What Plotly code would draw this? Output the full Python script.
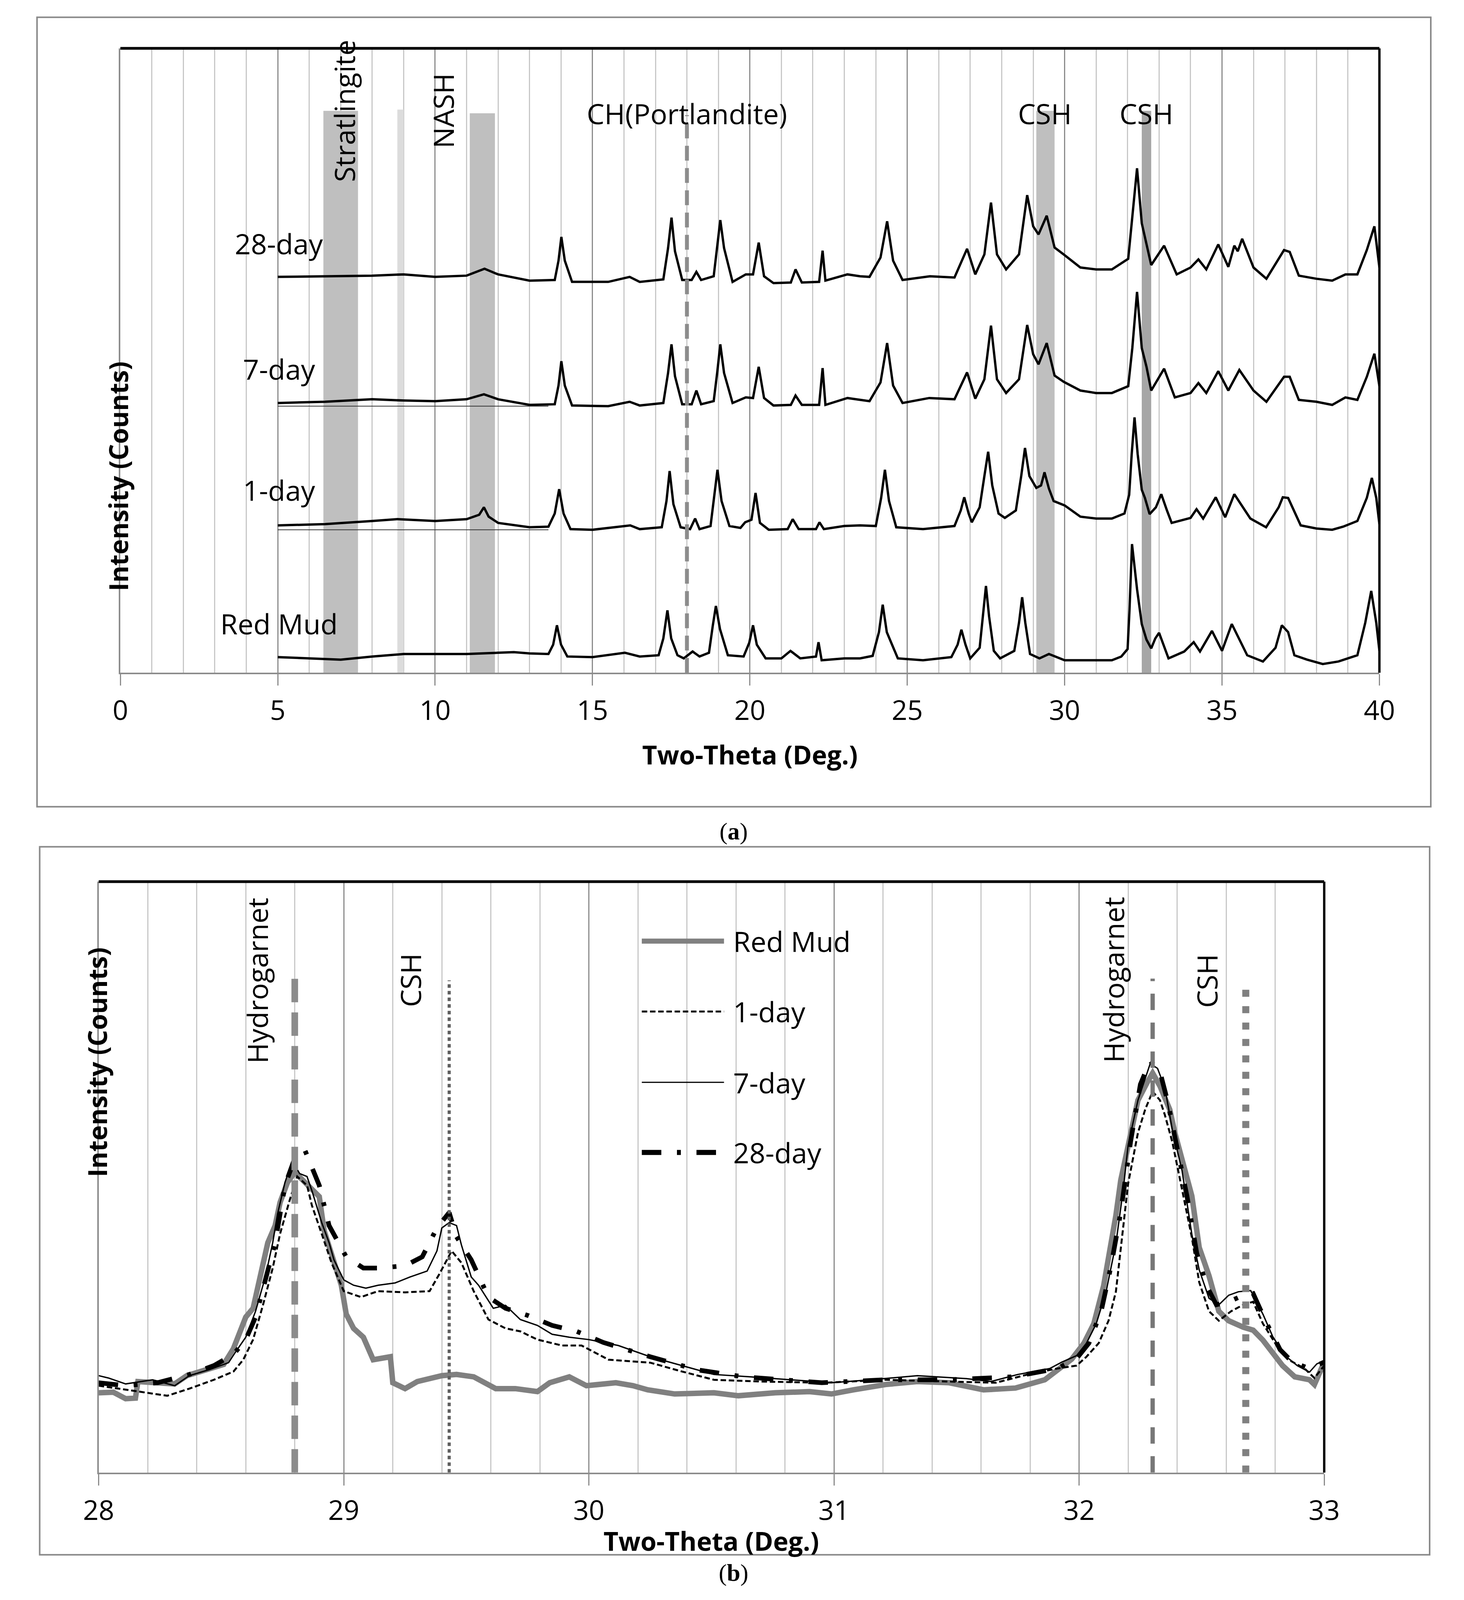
import plotly.graph_objects as go

W, H = 3748, 4615

# ---------------- panel (a): stacked XRD patterns, 5-40 deg ----------------
a_red_mud = [
    (5.0, 2.5), (6.0, 2.3), (7.0, 2.1), (8.0, 2.6), (9.0, 3.0), (10.0, 3.0), (11.0, 3.0),
    (12.0, 3.2), (12.5, 3.3), (13.0, 3.1), (13.6, 3.0), (13.75, 4.5), (13.87, 7.6), (14.0, 4.5),
    (14.2, 2.6), (15.0, 2.5), (16.03, 3.2), (16.5, 2.6), (17.1, 2.8), (17.25, 5.5), (17.38, 10.0),
    (17.5, 5.5), (17.7, 2.8), (17.9, 2.3), (18.18, 3.4), (18.4, 2.6), (18.7, 3.2), (18.82, 7.5),
    (18.92, 10.7), (19.05, 7.0), (19.3, 2.8), (19.8, 2.6), (19.98, 4.8), (20.1, 7.6), (20.22, 4.5),
    (20.5, 2.3), (21.0, 2.3), (21.29, 3.5), (21.6, 2.3), (22.1, 2.6), (22.18, 4.9), (22.28, 2.0),
    (23.0, 2.3), (23.5, 2.3), (23.9, 2.7), (24.1, 6.5), (24.22, 10.9), (24.35, 6.5), (24.7, 2.3),
    (25.5, 2.0), (26.4, 2.5), (26.6, 4.5), (26.72, 6.9), (26.85, 4.5), (27.0, 2.3), (27.3, 4.0),
    (27.4, 9.0), (27.5, 13.9), (27.6, 9.0), (27.75, 3.5), (27.95, 2.3), (28.4, 3.5), (28.55, 8.0),
    (28.65, 12.1), (28.75, 8.0), (28.9, 3.0), (29.2, 2.3), (29.5, 3.0), (30.0, 2.0), (30.5, 2.0),
    (31.0, 2.0), (31.5, 2.0), (31.8, 2.6), (32.0, 3.8), (32.06, 10.0), (32.14, 20.6), (32.3, 13.4),
    (32.45, 7.8), (32.6, 5.3), (32.75, 3.9), (32.88, 5.5), (33.0, 6.4), (33.3, 2.3), (33.8, 3.4),
    (34.1, 4.9), (34.3, 3.4), (34.68, 6.7), (35.0, 3.5), (35.31, 7.8), (35.8, 2.8), (36.3, 1.8),
    (36.7, 4.0), (36.9, 7.6), (37.1, 6.5), (37.3, 2.8), (37.7, 2.1), (38.2, 1.4), (38.7, 1.8),
    (39.3, 2.8), (39.55, 8.0), (39.74, 13.1), (39.9, 8.0), (40.0, 3.5),
]
a_day1 = [
    (5.0, 23.6), (6.5, 23.8), (8.0, 24.3), (8.8, 24.6), (10.0, 24.3), (11.0, 24.6), (11.4, 25.3),
    (11.55, 26.5), (11.7, 25.0), (12.0, 24.0), (13.0, 23.3), (13.6, 23.4), (13.8, 25.5), (13.94, 29.4),
    (14.08, 25.5), (14.3, 23.0), (15.0, 22.9), (16.2, 23.6), (16.5, 23.0), (17.2, 23.3), (17.35, 27.5),
    (17.45, 32.3), (17.57, 27.0), (17.8, 23.3), (18.1, 23.0), (18.26, 24.7), (18.4, 23.0), (18.75, 23.5),
    (18.86, 28.0), (18.97, 32.5), (19.1, 27.5), (19.35, 23.5), (19.7, 23.2), (19.85, 24.1), (20.05, 24.5),
    (20.18, 28.8), (20.32, 24.0), (20.6, 22.9), (21.2, 23.0), (21.36, 24.6), (21.55, 23.0), (22.1, 23.0),
    (22.21, 24.1), (22.35, 23.0), (23.0, 23.5), (23.5, 23.6), (24.0, 23.5), (24.17, 28.0), (24.29, 32.5),
    (24.42, 27.5), (24.65, 23.3), (25.5, 23.0), (26.5, 23.5), (26.7, 26.0), (26.81, 28.1), (26.95, 25.5),
    (27.05, 24.1), (27.3, 26.5), (27.45, 31.5), (27.57, 35.4), (27.7, 30.0), (27.9, 25.5), (28.1, 24.8),
    (28.45, 26.0), (28.62, 31.5), (28.74, 36.0), (28.88, 31.5), (29.1, 29.6), (29.25, 30.0), (29.36, 32.1),
    (29.5, 29.5), (29.65, 27.5), (30.0, 26.8), (30.5, 25.0), (31.0, 24.7), (31.5, 24.7), (31.9, 25.5),
    (32.05, 28.5), (32.13, 35.0), (32.22, 40.9), (32.32, 35.0), (32.45, 29.3), (32.55, 28.0), (32.7, 25.4),
    (32.9, 26.5), (33.07, 28.6), (33.25, 26.0), (33.4, 24.0), (34.0, 24.8), (34.19, 26.2), (34.4, 24.7),
    (34.8, 28.1), (35.1, 24.9), (35.39, 28.6), (35.9, 24.7), (36.4, 23.3), (36.8, 26.5), (36.93, 28.1),
    (37.1, 28.0), (37.5, 23.6), (38.0, 23.1), (38.5, 22.9), (38.85, 23.4), (39.3, 24.3), (39.6, 28.0),
    (39.76, 31.2), (39.9, 28.0), (40.0, 23.8),
]
a_day7 = [
    (5.0, 43.2), (6.5, 43.4), (8.0, 43.8), (9.0, 43.6), (10.0, 43.5), (11.0, 43.8), (11.55, 44.6),
    (12.0, 43.8), (13.0, 42.9), (13.8, 43.0), (13.92, 46.0), (14.01, 49.9), (14.12, 46.0), (14.35, 42.8),
    (15.5, 42.7), (16.18, 43.4), (16.5, 42.8), (17.25, 43.2), (17.4, 48.0), (17.51, 52.6), (17.62, 47.5),
    (17.85, 43.0), (18.15, 43.0), (18.3, 45.2), (18.45, 43.0), (18.85, 43.5), (18.96, 48.0), (19.06, 52.6),
    (19.18, 48.0), (19.45, 43.2), (19.87, 44.1), (20.1, 44.0), (20.28, 49.0), (20.45, 44.0), (20.75, 42.8),
    (21.3, 42.9), (21.45, 44.4), (21.65, 42.9), (22.2, 42.9), (22.31, 48.8), (22.4, 42.9), (23.1, 44.0),
    (23.8, 43.5), (24.15, 46.5), (24.36, 52.8), (24.55, 46.0), (24.85, 43.2), (25.7, 44.0), (26.5, 43.8),
    (26.9, 48.1), (27.16, 43.9), (27.45, 47.0), (27.66, 55.6), (27.85, 47.0), (28.14, 44.8), (28.55, 47.0),
    (28.81, 55.7), (29.0, 51.0), (29.17, 49.4), (29.43, 52.8), (29.68, 47.6), (29.97, 46.6), (30.5, 45.2),
    (31.0, 44.8), (31.5, 44.8), (32.02, 45.9), (32.15, 52.0), (32.3, 61.0), (32.45, 52.0), (32.6, 49.0),
    (32.75, 45.2), (33.16, 48.7), (33.5, 44.1), (34.0, 44.8), (34.25, 46.4), (34.5, 44.8), (34.88, 48.3),
    (35.2, 45.2), (35.55, 48.5), (36.0, 45.2), (36.41, 43.4), (36.97, 47.4), (37.15, 47.4), (37.44, 43.7),
    (38.0, 43.4), (38.5, 42.9), (38.92, 44.1), (39.3, 43.7), (39.6, 47.4), (39.84, 51.1), (40.0, 45.9),
]
a_day28 = [
    (5.0, 63.4), (6.5, 63.5), (8.0, 63.6), (9.0, 63.8), (10.0, 63.4), (11.0, 63.6), (11.57, 64.7),
    (12.0, 63.8), (13.0, 62.8), (13.8, 62.9), (13.92, 66.0), (14.01, 69.8), (14.12, 66.0), (14.35, 62.6),
    (15.5, 62.6), (16.18, 63.4), (16.5, 62.6), (17.25, 63.0), (17.4, 68.0), (17.51, 72.9), (17.62, 67.5),
    (17.85, 62.9), (18.15, 62.9), (18.3, 64.2), (18.45, 62.9), (18.85, 63.5), (18.96, 68.0), (19.06, 72.5),
    (19.18, 68.0), (19.45, 62.6), (19.87, 63.8), (20.1, 63.8), (20.28, 68.9), (20.45, 63.5), (20.75, 62.4),
    (21.3, 62.5), (21.45, 64.6), (21.65, 62.5), (22.2, 62.6), (22.31, 67.6), (22.4, 62.8), (23.1, 63.8),
    (23.5, 63.5), (23.8, 63.4), (24.15, 66.5), (24.36, 72.3), (24.55, 66.0), (24.85, 62.9), (25.72, 63.5),
    (26.5, 63.3), (26.9, 67.9), (27.16, 63.8), (27.45, 67.0), (27.66, 75.3), (27.85, 67.0), (28.14, 64.6),
    (28.55, 67.0), (28.81, 76.5), (29.0, 71.5), (29.17, 70.2), (29.43, 73.2), (29.68, 68.1), (29.97, 67.0),
    (30.5, 64.9), (31.0, 64.6), (31.5, 64.6), (32.02, 66.3), (32.15, 73.0), (32.3, 80.8), (32.45, 72.0),
    (32.6, 68.8), (32.75, 65.3), (33.16, 68.4), (33.56, 63.8), (34.0, 64.9), (34.25, 66.2), (34.5, 64.6),
    (34.88, 68.6), (35.2, 65.0), (35.39, 68.4), (35.5, 67.5), (35.64, 69.5), (36.0, 64.9), (36.41, 63.1),
    (36.97, 67.7), (37.15, 67.4), (37.44, 63.6), (38.0, 63.1), (38.5, 62.8), (38.92, 63.8), (39.3, 63.8),
    (39.6, 67.7), (39.84, 71.5), (40.0, 64.9),
]
a_series = {"Red Mud": a_red_mud, "1-day": a_day1, "7-day": a_day7, "28-day": a_day28}
a_sample_label_y = {"Red Mud": 7.9, "1-day": 29.3, "7-day": 48.7, "28-day": 68.8}
a_sample_label_x = 5.04

# thin guide lines under the 1-day and 7-day patterns
a_guide_y = [42.7, 22.9]
a_guide_x = [5.0, 13.6]

# shaded phase bands
a_band_x0 = [6.45, 8.8, 11.1, 29.1, 32.45]
a_band_x1 = [7.55, 9.0, 11.9, 29.68, 32.75]
a_band_top = [90.0, 90.2, 89.6, 90.0, 90.0]
a_band_color = ["#bfbfbf", "#dcdcdc", "#bfbfbf", "#bfbfbf", "#a6a6a6"]

a_phase_text = ["Stratlingite", "NASH", "CH(Portlandite)", "CSH", "CSH"]
a_phase_x = [7.1, 10.25, 18.0, 29.37, 32.6]
a_phase_y = [90.0, 90.0, 89.6, 89.6, 89.6]
a_phase_angle = [-90, -90, 0, 0, 0]

a_ch_x = 18.0
a_ch_top = 89.3

# ---------------- panel (b): zoom 28-33 deg ----------------
b_red_mud = [
    (28.00, 13.5), (28.06, 13.6), (28.11, 12.5), (28.15, 12.6), (28.16, 15.4), (28.24, 15.2),
    (28.31, 15.0), (28.36, 16.4), (28.43, 17.4), (28.51, 18.3), (28.55, 21.0), (28.60, 26.3),
    (28.63, 27.8), (28.66, 33.1), (28.69, 38.9), (28.72, 41.8), (28.74, 45.7), (28.77, 49.1),
    (28.80, 50.8), (28.83, 49.6), (28.87, 48.1), (28.90, 46.7), (28.92, 40.9), (28.96, 35.5),
    (28.99, 31.7), (29.01, 26.8), (29.04, 24.4), (29.08, 22.9), (29.12, 19.1), (29.19, 19.6),
    (29.20, 15.2), (29.25, 14.2), (29.30, 15.4), (29.40, 16.4), (29.46, 16.6), (29.53, 16.2),
    (29.62, 14.2), (29.70, 14.2), (29.79, 13.7), (29.84, 15.2), (29.92, 16.2), (29.99, 14.7),
    (30.11, 15.2), (30.18, 14.7), (30.24, 14.0), (30.35, 13.3), (30.51, 13.5), (30.61, 13.0),
    (30.76, 13.5), (30.90, 13.7), (30.99, 13.3), (31.08, 14.0), (31.21, 14.9), (31.34, 15.4),
    (31.47, 15.2), (31.61, 14.0), (31.74, 14.3), (31.86, 15.7), (31.97, 19.2), (32.02, 21.9),
    (32.06, 25.2), (32.10, 31.6), (32.12, 36.0), (32.15, 43.5), (32.17, 49.5), (32.20, 54.9),
    (32.24, 63.0), (32.28, 66.2), (32.30, 67.6), (32.33, 65.4), (32.37, 61.4), (32.39, 57.6),
    (32.42, 53.3), (32.46, 46.8), (32.49, 38.1), (32.53, 33.3), (32.57, 27.3), (32.61, 25.7),
    (32.67, 24.6), (32.71, 24.1), (32.75, 22.4), (32.79, 20.3), (32.83, 18.1), (32.88, 16.2),
    (32.94, 15.7), (32.96, 14.9), (33.00, 18.7),
]
b_day1 = [
    (28.00, 14.7), (28.11, 14.0), (28.28, 13.0), (28.37, 14.2), (28.47, 15.7), (28.55, 17.1),
    (28.59, 19.1), (28.63, 22.5), (28.67, 28.3), (28.71, 34.6), (28.74, 40.4), (28.78, 46.2),
    (28.81, 50.1), (28.85, 48.6), (28.87, 45.2), (28.91, 40.4), (28.95, 35.5), (29.00, 30.7),
    (29.07, 29.7), (29.14, 30.7), (29.25, 30.5), (29.35, 30.7), (29.39, 33.6), (29.44, 37.5),
    (29.48, 35.5), (29.53, 30.7), (29.59, 25.9), (29.66, 24.4), (29.72, 23.9), (29.79, 22.5),
    (29.89, 21.5), (29.97, 21.5), (30.08, 19.1), (30.25, 18.6), (30.38, 17.1), (30.51, 15.7),
    (30.70, 15.4), (30.96, 15.2), (31.21, 15.7), (31.47, 15.4), (31.66, 15.2), (31.79, 16.6),
    (31.91, 17.6), (31.99, 18.1), (32.03, 19.6), (32.08, 21.9), (32.12, 25.7), (32.15, 30.6),
    (32.18, 41.4), (32.20, 48.9), (32.24, 57.5), (32.27, 61.5), (32.30, 64.5), (32.33, 63.0),
    (32.35, 60.5), (32.38, 56.0), (32.42, 47.9), (32.46, 39.8), (32.49, 32.2), (32.53, 27.3),
    (32.57, 25.7), (32.62, 27.3), (32.67, 28.4), (32.71, 28.9), (32.75, 25.2), (32.80, 21.9),
    (32.85, 19.2), (32.92, 17.6), (32.96, 16.0), (33.00, 18.1),
]
b_day7 = [
    (28.00, 16.4), (28.04, 16.0), (28.11, 15.0), (28.22, 15.7), (28.31, 14.7), (28.37, 16.4),
    (28.45, 17.4), (28.53, 18.6), (28.56, 20.5), (28.60, 22.9), (28.64, 27.3), (28.68, 33.1),
    (28.71, 38.9), (28.73, 43.8), (28.76, 49.1), (28.78, 51.5), (28.80, 52.0), (28.82, 50.6),
    (28.85, 50.1), (28.87, 47.7), (28.91, 42.3), (28.94, 38.9), (28.96, 36.0), (29.00, 32.6),
    (29.04, 31.7), (29.09, 31.2), (29.14, 31.7), (29.21, 32.1), (29.27, 33.1), (29.34, 34.1),
    (29.38, 37.5), (29.40, 41.4), (29.43, 42.3), (29.46, 41.8), (29.48, 38.5), (29.52, 33.1),
    (29.55, 31.7), (29.61, 27.8), (29.66, 28.3), (29.72, 25.9), (29.79, 24.9), (29.85, 23.4),
    (29.92, 22.9), (30.00, 22.5), (30.12, 21.5), (30.25, 19.6), (30.38, 18.1), (30.51, 16.6),
    (30.66, 16.2), (30.83, 15.7), (30.99, 15.2), (31.15, 15.7), (31.34, 16.4), (31.54, 15.9),
    (31.64, 15.4), (31.75, 16.6), (31.88, 17.6), (31.93, 18.7), (31.99, 19.8), (32.03, 21.9),
    (32.07, 25.2), (32.11, 30.6), (32.15, 38.7), (32.18, 47.9), (32.20, 55.4), (32.24, 63.0),
    (32.27, 66.8), (32.29, 69.2), (32.32, 68.4), (32.35, 65.1), (32.38, 58.1), (32.42, 51.1),
    (32.46, 40.3), (32.49, 34.3), (32.53, 29.5), (32.57, 28.4), (32.61, 30.0), (32.65, 30.6),
    (32.70, 30.8), (32.75, 26.8), (32.79, 23.0), (32.84, 19.8), (32.89, 18.1), (32.94, 17.0),
    (32.97, 18.4), (33.00, 18.9),
]
b_day28 = [
    (28.00, 15.2), (28.11, 14.7), (28.24, 15.2), (28.37, 16.6), (28.47, 18.1), (28.55, 20.0),
    (28.60, 22.5), (28.64, 26.3), (28.68, 32.6), (28.72, 38.9), (28.76, 48.6), (28.80, 53.2),
    (28.84, 54.7), (28.87, 51.5), (28.90, 48.6), (28.94, 41.8), (28.98, 38.9), (29.01, 36.5),
    (29.08, 34.6), (29.14, 34.6), (29.25, 35.0), (29.32, 36.5), (29.38, 41.4), (29.43, 44.0),
    (29.46, 39.9), (29.52, 36.0), (29.59, 29.7), (29.66, 27.8), (29.75, 26.6), (29.85, 24.9),
    (29.95, 23.9), (30.06, 22.0), (30.25, 19.6), (30.44, 17.4), (30.63, 16.2), (30.95, 15.2),
    (31.21, 15.7), (31.47, 15.7), (31.73, 16.2), (31.91, 17.6), (31.99, 19.3), (32.04, 21.9),
    (32.09, 27.3), (32.13, 34.9), (32.17, 44.1), (32.21, 56.0), (32.25, 65.7), (32.29, 69.7),
    (32.33, 67.8), (32.36, 63.0), (32.40, 54.9), (32.44, 46.8), (32.48, 37.1), (32.52, 31.6),
    (32.56, 28.4), (32.61, 28.9), (32.67, 30.0), (32.71, 30.3), (32.76, 25.7), (32.82, 20.8),
    (32.87, 18.7), (32.94, 17.6), (33.00, 18.7),
]
b_series = {"Red Mud": b_red_mud, "1-day": b_day1, "7-day": b_day7, "28-day": b_day28}
b_style = {
    "Red Mud": dict(color="#808080", width=14, dash="solid"),
    "1-day": dict(color="black", width=5, dash="14px,7px"),
    "7-day": dict(color="black", width=3.5, dash="solid"),
    "28-day": dict(color="black", width=12, dash="50px,40px,10px,40px"),
}

# vertical phase markers
b_mark_x = [28.8, 29.43, 32.3, 32.68]
b_mark_top = [83.6, 83.3, 83.6, 83.0]
b_mark_style = [
    dict(color="#8c8c8c", width=17, dash="60px,26px"),
    dict(color="#5f5f5f", width=8, dash="9px,8px"),
    dict(color="#777777", width=11, dash="42px,32px"),
    dict(color="#808080", width=18, dash="18px,24px"),
]
b_phase_text = ["Hydrogarnet", "CSH", "Hydrogarnet", "CSH"]
b_phase_x = [28.646, 29.27, 32.14, 32.52]
b_phase_y = [83.3, 83.3, 83.4, 83.2]

# ---------------- page geometry (pixels of the 3748x4615 original) ----------------
A_PLOT = dict(l=267, r=3575, t=131, b=1939)
B_PLOT = dict(l=210, r=3430, t=2544, b=4255)
A_BOX = dict(l=48, r=3710, t=41, b=2327)
B_BOX = dict(l=55, r=3707, t=2443, b=4493)


def px(x):
    return x / W


def py(y):
    return 1 - y / H


FONT = "Open Sans"
GRID_MAJOR = "#8c8c8c"
GRID_MINOR = "#c8c8c8"

fig = go.Figure()

for name, pts in a_series.items():
    xs, ys = zip(*pts)
    fig.add_trace(go.Scatter(x=xs, y=ys, mode="lines", name=name, showlegend=False,
                             line=dict(color="black", width=6), xaxis="x", yaxis="y"))

for gy in a_guide_y:
    fig.add_trace(go.Scatter(x=a_guide_x, y=[gy, gy], mode="lines", showlegend=False,
                             line=dict(color="#333333", width=2), xaxis="x", yaxis="y"))

fig.add_trace(go.Scatter(x=[a_ch_x, a_ch_x], y=[0, a_ch_top], mode="lines", showlegend=False,
                         line=dict(color="#8c8c8c", width=10, dash="38px,19px"),
                         xaxis="x", yaxis="y"))

for name, pts in b_series.items():
    xs, ys = zip(*pts)
    fig.add_trace(go.Scatter(x=xs, y=ys, mode="lines", name=name, showlegend=False,
                             line=b_style[name], xaxis="x2", yaxis="y2"))

for mx, mt, ms in zip(b_mark_x, b_mark_top, b_mark_style):
    fig.add_trace(go.Scatter(x=[mx, mx], y=[0, mt], mode="lines", showlegend=False,
                             line=ms, xaxis="x2", yaxis="y2"))

shapes = []
for x0, x1, top, col in zip(a_band_x0, a_band_x1, a_band_top, a_band_color):
    shapes.append(dict(type="rect", xref="x", yref="y", x0=x0, x1=x1, y0=0, y1=top,
                       fillcolor=col, line=dict(width=0), layer="between"))

# outer chart boxes
for box in (A_BOX, B_BOX):
    shapes.append(dict(type="rect", xref="paper", yref="paper",
                       x0=px(box["l"]), x1=px(box["r"]), y0=py(box["b"]), y1=py(box["t"]),
                       line=dict(color="#8a8a8a", width=4)))

# black top / right plot borders
for p in (A_PLOT, B_PLOT):
    shapes.append(dict(type="line", xref="paper", yref="paper",
                       x0=px(p["l"]), x1=px(p["r"]), y0=py(p["t"]), y1=py(p["t"]),
                       line=dict(color="black", width=7)))
    shapes.append(dict(type="line", xref="paper", yref="paper",
                       x0=px(p["r"]), x1=px(p["r"]), y0=py(p["b"]), y1=py(p["t"]),
                       line=dict(color="black", width=6)))

# legend of panel (b), drawn by hand so the sample lines are long like the original
leg_x0, leg_x1, leg_text_x = 1637, 1853, 1875
leg_rows = [2716, 2920, 3125, 3328]
leg_names = ["Red Mud", "1-day", "7-day", "28-day"]
leg_width = {"Red Mud": 13, "1-day": 5, "7-day": 3, "28-day": 13}
annotations = []
for name, ry in zip(leg_names, leg_rows):
    st = dict(b_style[name])
    st["width"] = leg_width[name]
    shapes.append(dict(type="line", xref="paper", yref="paper",
                       x0=px(leg_x0), x1=px(leg_x1), y0=py(ry), y1=py(ry), line=st))
    annotations.append(dict(xref="paper", yref="paper", x=px(leg_text_x), y=py(ry),
                            text=name, showarrow=False, xanchor="left", yanchor="middle",
                            font=dict(family=FONT, size=72, color="black")))

for name, ly in a_sample_label_y.items():
    annotations.append(dict(xref="x", yref="y", x=a_sample_label_x, y=ly, text=name,
                            showarrow=False, xanchor="center", yanchor="middle",
                            font=dict(family=FONT, size=72, color="black")))

for t, x, y, ang in zip(a_phase_text, a_phase_x, a_phase_y, a_phase_angle):
    annotations.append(dict(xref="x", yref="y", x=x, y=y, text=t, textangle=ang,
                            showarrow=False, xanchor="center", yanchor="middle",
                            font=dict(family=FONT, size=72, color="black")))

for t, x, y in zip(b_phase_text, b_phase_x, b_phase_y):
    annotations.append(dict(xref="x2", yref="y2", x=x, y=y, text=t, textangle=-90,
                            showarrow=False, xanchor="center", yanchor="middle",
                            font=dict(family=FONT, size=72, color="black")))

title_font = dict(family=FONT, size=66, color="black")
annotations += [
    dict(xref="paper", yref="paper", x=px((A_PLOT["l"] + A_PLOT["r"]) / 2), y=py(2175),
         text="<b>Two-Theta (Deg.)</b>", showarrow=False, yanchor="middle", font=title_font),
    dict(xref="paper", yref="paper", x=px((B_PLOT["l"] + B_PLOT["r"]) / 2), y=py(4452),
         text="<b>Two-Theta (Deg.)</b>", showarrow=False, yanchor="middle", font=title_font),
    dict(xref="paper", yref="paper", x=px(212), y=py(1036), textangle=-90,
         text="<b>Intensity (Counts)</b>", showarrow=False, font=title_font),
    dict(xref="paper", yref="paper", x=px(157), y=py(3402), textangle=-90,
         text="<b>Intensity (Counts)</b>", showarrow=False, font=title_font),
    dict(xref="paper", yref="paper", x=px(1878), y=py(2398), text="(<b>a</b>)",
         showarrow=False, yanchor="middle",
         font=dict(family="Liberation Serif", size=62, color="black")),
    dict(xref="paper", yref="paper", x=px(1878), y=py(4546), text="(<b>b</b>)",
         showarrow=False, yanchor="middle",
         font=dict(family="Liberation Serif", size=62, color="black")),
]


def x_axis(plot, rng, major, minor, anchor):
    return dict(
        domain=[px(plot["l"]), px(plot["r"])], anchor=anchor, range=rng,
        tick0=rng[0], dtick=major, showgrid=True, gridcolor=GRID_MAJOR, gridwidth=3,
        minor=dict(dtick=minor, tick0=rng[0], showgrid=True, gridcolor=GRID_MINOR,
                   gridwidth=3, ticks=""),
        ticks="outside", ticklen=29, tickwidth=3, tickcolor=GRID_MAJOR,
        showline=True, linecolor=GRID_MAJOR, linewidth=4, zeroline=False,
        tickfont=dict(family=FONT, size=70, color="black"), ticklabelstandoff=4,
        fixedrange=True,
    )


def y_axis(plot, anchor):
    return dict(
        domain=[py(plot["b"]), py(plot["t"])], anchor=anchor, range=[0, 100],
        showgrid=False, showticklabels=False, ticks="", zeroline=False,
        showline=True, linecolor=GRID_MAJOR, linewidth=4, fixedrange=True,
    )


# the figure fills the browser window, so every position above is a fraction of it
fig.update_layout(
    autosize=True,
    margin=dict(l=0, r=0, t=0, b=0),
    paper_bgcolor="white", plot_bgcolor="white",
    xaxis=x_axis(A_PLOT, [0, 40], 5, 1, "y"),
    yaxis=y_axis(A_PLOT, "x"),
    xaxis2=x_axis(B_PLOT, [28, 33], 1, 0.2, "y2"),
    yaxis2=y_axis(B_PLOT, "x2"),
    shapes=shapes,
    annotations=annotations,
    showlegend=False,
)

fig.write_html("out.html", default_width="calc(100vw - 16px)",
               default_height="calc(100vh - 16px)")
